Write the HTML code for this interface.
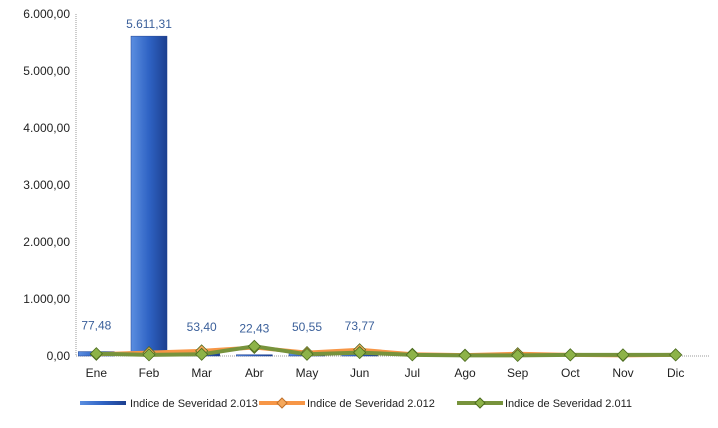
<!DOCTYPE html>
<html><head><meta charset="utf-8"><style>
body{margin:0;background:#fff;font-family:"Liberation Sans",sans-serif}
</style></head><body>
<svg id="c" width="718" height="423" xmlns="http://www.w3.org/2000/svg">
<defs>
<linearGradient id="bg" x1="0" x2="1"><stop offset="0" stop-color="#5b8ee0"/><stop offset="0.5" stop-color="#2f63c4"/><stop offset="1" stop-color="#1c3f8f"/></linearGradient>
</defs>
</svg>
<script>
const categories=["Ene","Feb","Mar","Abr","May","Jun","Jul","Ago","Sep","Oct","Nov","Dic"];
const s2013=[77.48,5611.31,53.40,22.43,50.55,73.77,0,0,0,0,0,0];
const s2013Labels=["77,48","5.611,31","53,40","22,43","50,55","73,77","","","","","",""];
const s2012=[30,60,90,150,60,110,30,15,40,20,10,20];
const s2011=[40,20,30,170,30,60,20,10,10,20,20,20];
const yTicks=[0,1000,2000,3000,4000,5000,6000];
const yTickLabels=["0,00","1.000,00","2.000,00","3.000,00","4.000,00","5.000,00","6.000,00"];
const svg=document.getElementById('c');const NS='http://www.w3.org/2000/svg';
const L=70,R=702,T=14,B=356,yMax=6000;
const bw=(R-L)/categories.length;
const x=i=>L+bw*(i+0.5);
const y=v=>B-(v/yMax)*(B-T);
function el(t,a,p){const e=document.createElementNS(NS,t);for(const k in a)e.setAttribute(k,a[k]);(p||svg).appendChild(e);return e;}
let e=el('line',{x1:L+6,y1:T,x2:L+6,y2:B,stroke:'#999','stroke-dasharray':'1,1'});

e=el('line',{x1:L+6,y1:B,x2:R+8,y2:B,stroke:'#999','stroke-dasharray':'1,1'});

yTicks.forEach((v,i)=>{const t=el('text',{x:L,y:y(v)+4,'text-anchor':'end','font-size':12,fill:'#222'});t.textContent=yTickLabels[i];
});
categories.forEach((c,i)=>{const t=el('text',{x:x(i),y:B+21,'text-anchor':'middle','font-size':12,fill:'#222'});t.textContent=c;
});
s2013.forEach((v,i)=>{if(v<=0)return;const r=el('rect',{x:x(i)-18,y:y(v),width:36,height:B-y(v),fill:'url(#bg)',stroke:'#1c3f8f','stroke-width':0.5});

if(s2013Labels[i]){const t=el('text',{x:x(i),y:y(v)-(i==1?8:22),'text-anchor':'middle','font-size':12,fill:'#3a5f9a'});t.textContent=s2013Labels[i];
}});
function line(data,col,mk,name){const pts=data.map((v,i)=>x(i)+','+y(v)).join(' ');
const p=el('polyline',{points:pts,fill:'none',stroke:col,'stroke-width':4});

data.forEach((v,i)=>{const d=el('polygon',{points:`${x(i)},${y(v)-6} ${x(i)+6},${y(v)} ${x(i)},${y(v)+6} ${x(i)-6},${y(v)}`,fill:mk,stroke:'#4b6b1e','stroke-width':0.8});
});}
line(s2012,'#f79646','#f5a85c','line-2012');
line(s2011,'#77933c','#8db348','line-2011');
const ly=403;
function leg(x0,name,txt,draw){const g=el('g',{});draw(g);
const t=el('text',{x:x0+54,y:ly+4,'font-size':11,fill:'#222'},g);t.textContent=txt;}
leg(76,'legend-2013','Indice de Severidad 2.013',g=>{el('rect',{x:80,y:ly-2,width:46,height:4,fill:'url(#bg)'},g);});
leg(253,'legend-2012','Indice de Severidad 2.012',g=>{el('line',{x1:259,y1:ly,x2:305,y2:ly,stroke:'#f79646','stroke-width':4},g);
el('polygon',{points:`282,${ly-5} 287,${ly} 282,${ly+5} 277,${ly}`,fill:'#f5a85c',stroke:'#c0702a'},g);});
leg(451,'legend-2011','Indice de Severidad 2.011',g=>{el('line',{x1:457,y1:ly,x2:503,y2:ly,stroke:'#77933c','stroke-width':4},g);
el('polygon',{points:`480,${ly-5} 485,${ly} 480,${ly+5} 475,${ly}`,fill:'#8db348',stroke:'#4b6b1e'},g);});
</script>
</body></html>
